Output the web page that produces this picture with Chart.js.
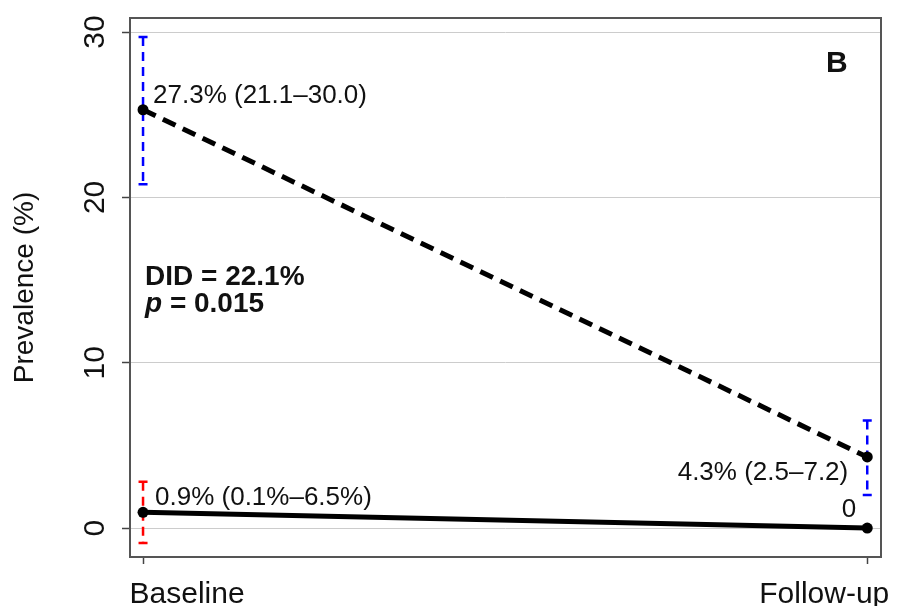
<!DOCTYPE html>
<html>
<head>
<meta charset="utf-8">
<script src="https://cdn.jsdelivr.net/npm/chart.js@4.4.1/dist/chart.umd.min.js"></script>
<style>
  body { margin: 0; background: #fff; }
</style>
</head>
<body>
<canvas id="chartB" width="898" height="606"></canvas>
<script>
var categories = ['Baseline', 'Follow-up'];
var yTicks = [0, 10, 20, 30];

// intervention group (dashed line, blue CI)
var dashedPrev = [25.3, 4.3];
var dashedLow = [20.8, 2.0];
var dashedHigh = [29.7, 6.5];
var dashedLabels = ['27.3% (21.1\u201330.0)', '4.3% (2.5\u20137.2)'];

// control group (solid line, red CI)
var solidPrev = [0.95, 0];
var solidLow = [-0.9, null];
var solidHigh = [2.8, null];
var solidLabels = ['0.9% (0.1%\u20136.5%)', '0'];

var FONT = "'Liberation Sans', Arial, Helvetica, sans-serif";

function toPoints(arr) {
    return arr.map(function (v, i) { return { x: i, y: v }; });
}

var extras = {
    id: 'extras',
    beforeDatasetsDraw: function (chart) {
        var ctx = chart.ctx;
        var xs = chart.scales.x, ys = chart.scales.y;
        function bar(i, lo, hi, color) {
            if (lo == null || hi == null) return;
            var x = xs.getPixelForValue(i);
            var y1 = ys.getPixelForValue(lo), y2 = ys.getPixelForValue(hi);
            ctx.save();
            ctx.strokeStyle = color;
            ctx.lineWidth = 2.5;
            ctx.setLineDash([9, 6]);
            ctx.beginPath();
            ctx.moveTo(x, y2);
            ctx.lineTo(x, y1);
            ctx.stroke();
            ctx.setLineDash([]);
            ctx.beginPath();
            ctx.moveTo(x - 4.5, y1); ctx.lineTo(x + 4.5, y1);
            ctx.moveTo(x - 4.5, y2); ctx.lineTo(x + 4.5, y2);
            ctx.stroke();
            ctx.restore();
        }
        for (var i = 0; i < categories.length; i++) {
            bar(i, dashedLow[i], dashedHigh[i], '#0000ff');
            bar(i, solidLow[i], solidHigh[i], '#ff0000');
        }
    },
    afterDraw: function (chart) {
        var ctx = chart.ctx;
        var a = chart.chartArea;
        var xs = chart.scales.x, ys = chart.scales.y;
        ctx.save();

        // box
        ctx.strokeStyle = '#555';
        ctx.lineWidth = 2;
        ctx.strokeRect(a.left, a.top, a.right - a.left, a.bottom - a.top);

        ctx.fillStyle = '#111';

        // x category labels, pulled inward like the original
        ctx.font = '30px ' + FONT;
        ctx.textAlign = 'center';
        ctx.textBaseline = 'alphabetic';
        ctx.fillText(categories[0], xs.getPixelForValue(0) + 44, 603);
        ctx.fillText(categories[1], xs.getPixelForValue(1) - 43, 603);

        // rotated y tick labels
        ctx.textBaseline = 'middle';
        yTicks.forEach(function (v) {
            ctx.save();
            ctx.translate(96, ys.getPixelForValue(v));
            ctx.rotate(-Math.PI / 2);
            ctx.fillText(String(v), 0, 0);
            ctx.restore();
        });

        // y title
        ctx.save();
        ctx.font = '28px ' + FONT;
        ctx.translate(25, (a.top + a.bottom) / 2);
        ctx.rotate(-Math.PI / 2);
        ctx.fillText('Prevalence (%)', 0, 0);
        ctx.restore();

        // point labels
        ctx.textBaseline = 'alphabetic';
        ctx.font = '26px ' + FONT;
        ctx.textAlign = 'left';
        ctx.fillText(dashedLabels[0], xs.getPixelForValue(0) + 10, ys.getPixelForValue(dashedPrev[0]) - 7);
        ctx.fillText(solidLabels[0], xs.getPixelForValue(0) + 12, ys.getPixelForValue(solidPrev[0]) - 7);
        ctx.textAlign = 'right';
        ctx.fillText(dashedLabels[1], xs.getPixelForValue(1) - 19, ys.getPixelForValue(dashedPrev[1]) + 23);
        ctx.fillText(solidLabels[1], xs.getPixelForValue(1) - 11, ys.getPixelForValue(solidPrev[1]) - 11);

        // DID annotation
        ctx.textAlign = 'left';
        ctx.font = 'bold 28px ' + FONT;
        ctx.fillText('DID = 22.1%', 145, 285);
        ctx.font = 'italic bold 28px ' + FONT;
        ctx.fillText('p', 145, 312);
        var pw = ctx.measureText('p').width;
        ctx.font = 'bold 28px ' + FONT;
        ctx.fillText(' = 0.015', 145 + pw, 312);

        // panel letter
        ctx.font = 'bold 30px ' + FONT;
        ctx.fillText('B', 826, 72);
        ctx.restore();
    }
};

var ctxB = document.getElementById('chartB').getContext('2d');
var chartB = new Chart(ctxB, {
    type: 'line',
    data: {
        datasets: [{
            label: 'Intervention',
            data: toPoints(dashedPrev),
            borderColor: '#000',
            backgroundColor: '#000',
            borderWidth: 5,
            borderDash: [14, 8],
            pointRadius: 5.5,
            pointBackgroundColor: '#000',
            pointBorderWidth: 0
        }, {
            label: 'Control',
            data: toPoints(solidPrev),
            borderColor: '#000',
            backgroundColor: '#000',
            borderWidth: 5,
            pointRadius: 5.5,
            pointBackgroundColor: '#000',
            pointBorderWidth: 0
        }]
    },
    options: {
        responsive: false,
        animation: false,
        layout: { padding: { top: 18, right: 17, left: 0, bottom: 0 } },
        plugins: {
            legend: { display: false },
            tooltip: { enabled: false }
        },
        scales: {
            x: {
                type: 'linear',
                min: -0.018,
                max: 1.019,
                afterBuildTicks: function (s) {
                    s.ticks = categories.map(function (c, i) { return { value: i }; });
                },
                afterFit: function (s) {
                    s.height = 49;
                    s.paddingLeft = 0;
                    s.paddingRight = 0;
                },
                ticks: { display: false },
                grid: {
                    drawOnChartArea: false,
                    drawTicks: true,
                    tickLength: 7,
                    tickColor: '#444',
                    tickWidth: 1.5
                },
                border: { display: false }
            },
            y: {
                min: -1.75,
                max: 30.85,
                afterBuildTicks: function (s) {
                    s.ticks = yTicks.map(function (v) { return { value: v }; });
                },
                afterFit: function (s) {
                    s.width = 130;
                    s.paddingTop = 0;
                    s.paddingBottom = 0;
                },
                ticks: { display: false },
                grid: {
                    color: '#cccccc',
                    lineWidth: 1,
                    drawTicks: true,
                    tickLength: 8,
                    tickColor: '#444',
                    tickWidth: 1.5
                },
                border: { display: false }
            }
        }
    },
    plugins: [extras]
});
</script>
</body>
</html>
